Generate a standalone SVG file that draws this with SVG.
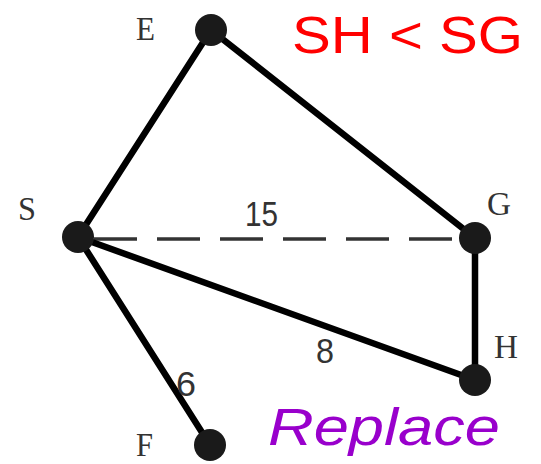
<svg xmlns="http://www.w3.org/2000/svg" width="541" height="464" viewBox="0 0 541 464">
<style>
.edge{stroke:#000;stroke-width:6.5;fill:none;stroke-linecap:round}
.dash{stroke:#333;stroke-width:3.5;fill:none;stroke-dasharray:43 20}
.node{fill:#1a1a1a}
.lbl{font-family:"Liberation Serif",serif;font-size:34px;fill:#333}
.num{font-family:"Liberation Sans",sans-serif;font-size:35px;fill:#333}
</style>
<rect width="541" height="464" fill="#fff"/>
<g id="connectors">
<line class="edge" x1="211" y1="30" x2="78" y2="237"/>
<line class="edge" x1="211" y1="30" x2="475" y2="238"/>
<line class="dash" x1="94" y1="239" x2="460" y2="239"/>
<line class="edge" x1="78" y1="237" x2="475" y2="380"/>
<line class="edge" x1="475" y1="238" x2="475" y2="380"/>
<line class="edge" x1="78" y1="237" x2="210" y2="445"/>
</g>
<g id="E"><circle class="node" cx="211" cy="30" r="16"/><text class="lbl" x="136" y="40" textLength="19" lengthAdjust="spacingAndGlyphs">E</text></g>
<g id="S"><circle class="node" cx="78" cy="237" r="16"/><text class="lbl" x="18" y="220" textLength="18" lengthAdjust="spacingAndGlyphs">S</text></g>
<g id="G"><circle class="node" cx="475" cy="238" r="16"/><text class="lbl" x="487" y="215" textLength="24" lengthAdjust="spacingAndGlyphs">G</text></g>
<g id="H"><circle class="node" cx="475" cy="380" r="16"/><text class="lbl" x="494" y="358" textLength="24" lengthAdjust="spacingAndGlyphs">H</text></g>
<g id="F"><circle class="node" cx="210" cy="445" r="16"/><text class="lbl" x="136" y="456" font-size="32" textLength="17" lengthAdjust="spacingAndGlyphs">F</text></g>
<g id="edge-labels">
<text class="num" x="245" y="226" textLength="33" lengthAdjust="spacingAndGlyphs">15</text>
<text class="num" x="316" y="363" textLength="18" lengthAdjust="spacingAndGlyphs">8</text>
<text class="num" x="176" y="396" textLength="20" lengthAdjust="spacingAndGlyphs">6</text>
</g>
<text x="292" y="53" font-family="Liberation Sans,sans-serif" font-size="52" fill="#ff0000" textLength="231" lengthAdjust="spacingAndGlyphs">SH &lt; SG</text>
<text x="268" y="445" font-family="Liberation Sans,sans-serif" font-size="51" font-style="italic" fill="#9900cc" textLength="232" lengthAdjust="spacingAndGlyphs">Replace</text>
</svg>
